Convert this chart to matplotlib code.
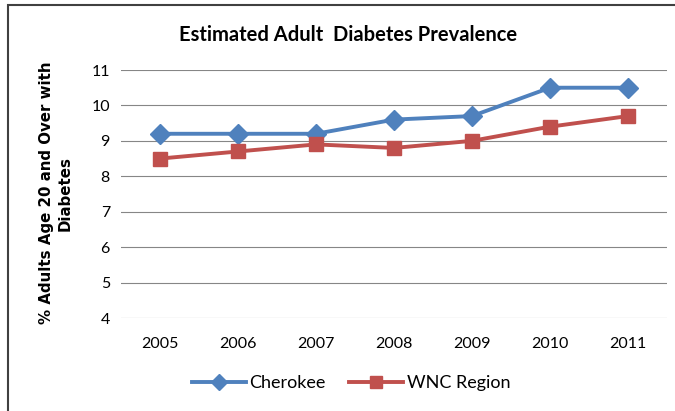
import matplotlib.pyplot as plt
from matplotlib.patches import Rectangle

years = ['2005', '2006', '2007', '2008', '2009', '2010', '2011']
cherokee = [9.2, 9.2, 9.2, 9.6, 9.7, 10.5, 10.5]
wnc = [8.5, 8.7, 8.9, 8.8, 9.0, 9.4, 9.7]

plt.rcParams['font.family'] = ['Lato', 'DejaVu Sans']

fig = plt.figure(figsize=(6.75, 4.11), dpi=100)
ax = fig.add_axes([121/675, 1-318/411, (667-121)/675, (318-70)/411])

x = range(len(years))
ax.plot(x, cherokee, color='#4F81BD', lw=2.8, marker='D', ms=10, label='Cherokee')
ax.plot(x, wnc, color='#C0504D', lw=2.8, marker='s', ms=10, label='WNC Region')

ax.set_ylim(4, 11)
ax.set_xlim(-0.5, 6.5)
ax.set_yticks(range(4, 12))
ax.set_xticks(list(x))
ax.set_xticklabels(years)
ax.grid(axis='y', color='#868686', lw=0.8)
ax.set_axisbelow(True)
for s in ax.spines.values():
    s.set_visible(False)
ax.tick_params(length=0, labelsize=11.5, pad=8)
ax.tick_params(axis='x', pad=14)

fig.text(0.515, 0.915, 'Estimated Adult  Diabetes Prevalence', ha='center', va='center',
         fontsize=14.5, fontweight='bold')
fig.text(0.082, 0.53, '% Adults Age 20 and Over with\nDiabetes', ha='center', va='center',
         rotation=90, fontsize=10.8, fontweight='bold', family=['DejaVu Sans'], linespacing=1.3)

fig.legend(loc='center', bbox_to_anchor=(0.52, 0.068), ncol=2, frameon=False,
           fontsize=13, handlelength=3.0, columnspacing=1.3, handletextpad=0.2, markerscale=0.8)

fig.patches.append(Rectangle((8/675, -0.05), 1.05, 1.05 - 5/411, transform=fig.transFigure,
                             fill=False, edgecolor='#404040', lw=1.5))

fig.savefig('out.png', dpi=100)
